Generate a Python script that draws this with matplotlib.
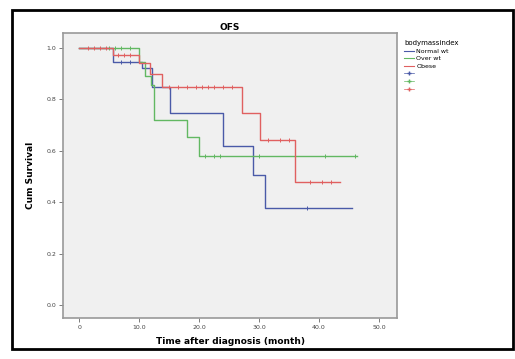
import matplotlib.pyplot as plt
import matplotlib.patches as mpatches
from matplotlib.lines import Line2D

# Kaplan-Meier step data per group (time of step, survival after step)
groups = ["Normal wt", "Over wt", "Obese"]

blue_t = [0, 5.7, 10.5, 12.2, 15.2, 24.0, 29.0, 31.0, 45.5]
blue_s = [1.0, 0.946, 0.92, 0.85, 0.747, 0.62, 0.505, 0.377, 0.377]
blue_cens_t = [7.0, 8.5, 38.0]
blue_cens_s = [0.946, 0.946, 0.377]

green_t = [0, 10.0, 11.0, 12.0, 12.5, 18.0, 20.0, 46.3]
green_s = [1.0, 0.945, 0.89, 0.856, 0.72, 0.655, 0.58, 0.58]
green_cens_t = [5.0, 6.0, 7.0, 8.5, 21.0, 22.5, 23.5, 30.0, 41.0, 46.0]
green_cens_s = [1.0, 1.0, 1.0, 1.0, 0.58, 0.58, 0.58, 0.58, 0.58, 0.58]

red_t = [0, 5.7, 10.0, 11.8, 13.8, 27.2, 30.2, 36.0, 43.5]
red_s = [1.0, 0.973, 0.94, 0.90, 0.848, 0.747, 0.642, 0.477, 0.477]
red_cens_t = [1.5, 2.5, 3.5, 4.5, 6.5, 7.5, 8.5, 15.0, 16.5, 18.0, 19.5,
              20.5, 21.5, 22.5, 24.0, 25.5, 31.5, 33.5, 35.0, 38.5, 40.5, 42.0]
red_cens_s = [1.0, 1.0, 1.0, 1.0, 0.973, 0.973, 0.973] + [0.848] * 9 + \
             [0.642] * 3 + [0.477] * 3

x_ticks = [0, 10, 20, 30, 40, 50]
x_labels = ["0", "10.0", "20.0", "30.0", "40.0", "50.0"]
y_ticks = [0.0, 0.2, 0.4, 0.6, 0.8, 1.0]
y_labels = ["0.0", "0.2", "0.4", "0.6", "0.8", "1.0"]

colors = ["#4a5aa8", "#62b862", "#e06060"]

fig = plt.figure(figsize=(5.15, 3.59), dpi=100)
ax = fig.add_axes([63 / 515, 1 - 318 / 359, (397 - 63) / 515, (318 - 33) / 359])
ax.set_facecolor("#f0f0f0")

series = [
    (blue_t, blue_s, blue_cens_t, blue_cens_s),
    (green_t, green_s, green_cens_t, green_cens_s),
    (red_t, red_s, red_cens_t, red_cens_s),
]
for (t, s, ct, cs), c in zip(series, colors):
    ax.step(t, s, where="post", color=c, lw=1.0)
    ax.plot(ct, cs, "+", color=c, ms=3.5, mew=0.7, ls="none")

ax.set_xlim(-2.7, 53)
ax.set_ylim(-0.05, 1.058)
ax.set_xticks(x_ticks)
ax.set_xticklabels(x_labels, fontsize=4.5, color="#444444")
ax.set_yticks(y_ticks)
ax.set_yticklabels(y_labels, fontsize=4.5, color="#444444")
ax.tick_params(length=3, width=0.6, color="#666666", pad=2)
for sp in ax.spines.values():
    sp.set_color("#999999")
    sp.set_linewidth(1.2)

ax.set_title("OFS", fontsize=6.5, fontweight="bold", pad=2)
ax.set_xlabel("Time after diagnosis (month)", fontsize=6.5, fontweight="bold", labelpad=5)
ax.set_ylabel("Cum Survival", fontsize=6.5, fontweight="bold", labelpad=8)

handles = [Line2D([0], [0], color=c, lw=0.8) for c in colors]
handles += [Line2D([0], [0], color=c, marker="+", ls="-", lw=0.5, ms=3) for c in colors]
labels = groups + [" ", " ", " "]
leg = fig.legend(handles, labels, title="bodymassindex", loc="upper left",
                 bbox_to_anchor=(400 / 515, 1 - 36 / 359), fontsize=4.5,
                 title_fontsize=5, frameon=False, handlelength=1.6,
                 handletextpad=0.3, labelspacing=0.35, borderpad=0.2)
leg._legend_box.align = "left"

# black frame around the whole figure
fig.patches.append(mpatches.Rectangle((12 / 515, 1 - 349 / 359), 501 / 515, 339 / 359,
                                      transform=fig.transFigure, fill=False,
                                      edgecolor="black", lw=2))

fig.savefig("out.png", dpi=100)
